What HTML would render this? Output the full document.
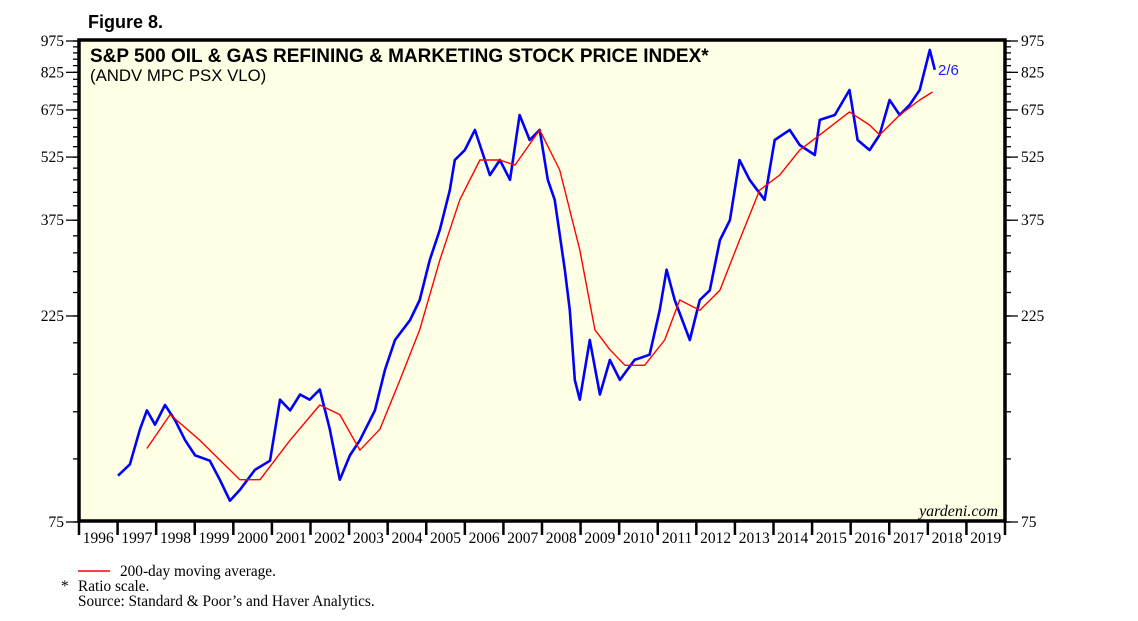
<!DOCTYPE html>
<html><head><meta charset="utf-8"><style>
body{margin:0;background:#fff;width:1138px;height:621px;overflow:hidden}
svg{display:block}
</style></head><body>
<svg id="c" width="1138" height="621" xmlns="http://www.w3.org/2000/svg">
<text x="88" y="28" font-family="Liberation Sans, sans-serif" font-weight="bold" font-size="18">Figure 8.</text>
<rect x="79" y="40" width="926" height="481" fill="#ffffe6"/>
<g id="axes"></g>
<g id="series"></g>
<rect x="79" y="40" width="926" height="481" fill="none" stroke="#000" stroke-width="3.5"/>
<text x="90" y="62" font-family="Liberation Sans, sans-serif" font-weight="bold" font-size="19">S&amp;P 500 OIL &amp; GAS REFINING &amp; MARKETING STOCK PRICE INDEX*</text>
<text x="90" y="81" font-family="Liberation Sans, sans-serif" font-size="16.8">(ANDV MPC PSX VLO)</text>
<text x="938" y="75" font-family="Liberation Sans, sans-serif" font-size="15" fill="#1a1aff">2/6</text>
<text x="998" y="516" text-anchor="end" font-family="Liberation Serif, serif" font-style="italic" font-size="16">yardeni.com</text>
<line x1="78" y1="571" x2="110" y2="571" stroke="#ff0000" stroke-width="1.5"/>
<text x="120" y="576" font-family="Liberation Serif, serif" font-size="15.3">200-day moving average.</text>
<text x="61" y="591" font-family="Liberation Serif, serif" font-size="15.3">*</text>
<text x="78" y="591" font-family="Liberation Serif, serif" font-size="15.3">Ratio scale.</text>
<text x="78" y="606" font-family="Liberation Serif, serif" font-size="15.3">Source: Standard &amp; Poor’s and Haver Analytics.</text>
</svg>
<script>
const yTickLabels=[75,225,375,525,675,825,975];
const years=[1996,1997,1998,1999,2000,2001,2002,2003,2004,2005,2006,2007,2008,2009,2010,2011,2012,2013,2014,2015,2016,2017,2018,2019];
const priceDates=[1997.01,1997.32,1997.58,1997.76,1997.97,1998.23,1998.49,1998.75,1999.01,1999.39,1999.65,1999.91,2000.17,2000.56,2000.95,2001.21,2001.47,2001.73,2001.98,2002.24,2002.50,2002.76,2003.02,2003.28,2003.67,2003.93,2004.19,2004.58,2004.83,2005.09,2005.35,2005.61,2005.74,2006.00,2006.26,2006.65,2006.91,2007.17,2007.42,2007.68,2007.94,2008.15,2008.33,2008.59,2008.72,2008.85,2008.98,2009.24,2009.50,2009.76,2010.02,2010.40,2010.79,2011.05,2011.23,2011.44,2011.83,2012.09,2012.35,2012.61,2012.87,2013.12,2013.38,2013.77,2014.03,2014.42,2014.68,2015.07,2015.20,2015.59,2015.97,2016.18,2016.49,2016.75,2017.01,2017.27,2017.53,2017.79,2018.05,2018.18];
const priceValues=[96,102,123,136,126,140,129,116,107,104,94,84,89,99,104,144,136,148,144,152,123,94,107,116,136,169,198,220,245,303,356,440,517,545,607,477,517,465,657,575,607,465,418,288,232,160,144,198,148,178,160,178,183,232,288,245,198,245,258,337,375,517,465,418,575,607,560,531,640,657,751,575,545,591,712,657,694,751,930,836];
const maDates=[1997.76,1998.36,1999.13,2000.17,2000.69,2001.47,2002.24,2002.76,2003.28,2003.80,2004.32,2004.83,2005.35,2005.87,2006.39,2006.91,2007.30,2007.94,2008.46,2008.98,2009.37,2009.76,2010.15,2010.66,2011.18,2011.57,2012.09,2012.61,2013.12,2013.64,2014.16,2014.68,2015.20,2015.97,2016.49,2016.75,2017.27,2017.79,2018.12];
const maValues=[111,133,116,94,94,116,140,133,110,123,160,209,303,418,517,517,503,607,490,320,209,188,173,173,198,245,232,258,337,440,477,545,591,668,623,591,657,712,743];

const NS='http://www.w3.org/2000/svg';
const X0=79,X1=1005,Y0=522,Y1=41,VMIN=75,VMAX=975;
const xs=t=>X0+(t-1996)/24*(X1-X0);
const ys=v=>Y0-Math.log(v/VMIN)/Math.log(VMAX/VMIN)*(Y0-Y1);
const axes=document.getElementById('axes'),series=document.getElementById('series');
function mk(tag,a,p){const e=document.createElementNS(NS,tag);for(const k in a)e.setAttribute(k,a[k]);p.appendChild(e);return e;}
for(let v=75;v<=975;v+=30){const y=ys(v);
 const l=mk('line',{x1:X0-6,x2:X0,y1:y,y2:y,stroke:'#000','stroke-width':1.3},axes);
 
 
 const r=mk('line',{x1:X1,x2:X1+6,y1:y,y2:y,stroke:'#000','stroke-width':1.3},axes);
 
 }
yTickLabels.forEach(v=>{const y=ys(v);
 const a=mk('line',{x1:X0-13,x2:X0,y1:y,y2:y,stroke:'#000','stroke-width':1.3},axes);
 
 
 const b=mk('line',{x1:X1,x2:X1+13,y1:y,y2:y,stroke:'#000','stroke-width':1.3},axes);
 
 
 const t=mk('text',{x:X0-15,y:y+5,'text-anchor':'end','font-family':'Liberation Serif, serif','font-size':15.5},axes);t.textContent=v;
 
 
 const t2=mk('text',{x:X1+16,y:y+5,'font-family':'Liberation Serif, serif','font-size':15.5},axes);t2.textContent=v;
 
 });
years.forEach(yr=>{const x=xs(yr);
 const l=mk('line',{x1:x,x2:x,y1:Y0-1,y2:Y0+13,stroke:'#000','stroke-width':2.5},axes);
 
 
 const t=mk('text',{x:xs(yr+0.5),y:Y0+21,'text-anchor':'middle','font-family':'Liberation Serif, serif','font-size':15.5},axes);t.textContent=yr;
 
 });
mk('line',{x1:X1,x2:X1,y1:Y0-1,y2:Y0+13,stroke:'#000','stroke-width':2.5},axes);
const pp=mk('polyline',{points:priceDates.map((d,i)=>xs(d).toFixed(1)+','+ys(priceValues[i]).toFixed(1)).join(' '),fill:'none',stroke:'#0000ff','stroke-width':2.6,'stroke-linejoin':'round'},series);


const mp=mk('polyline',{points:maDates.map((d,i)=>xs(d).toFixed(1)+','+ys(maValues[i]).toFixed(1)).join(' '),fill:'none',stroke:'#ff0000','stroke-width':1.4,'stroke-linejoin':'round'},series);


</script>
</body></html>
